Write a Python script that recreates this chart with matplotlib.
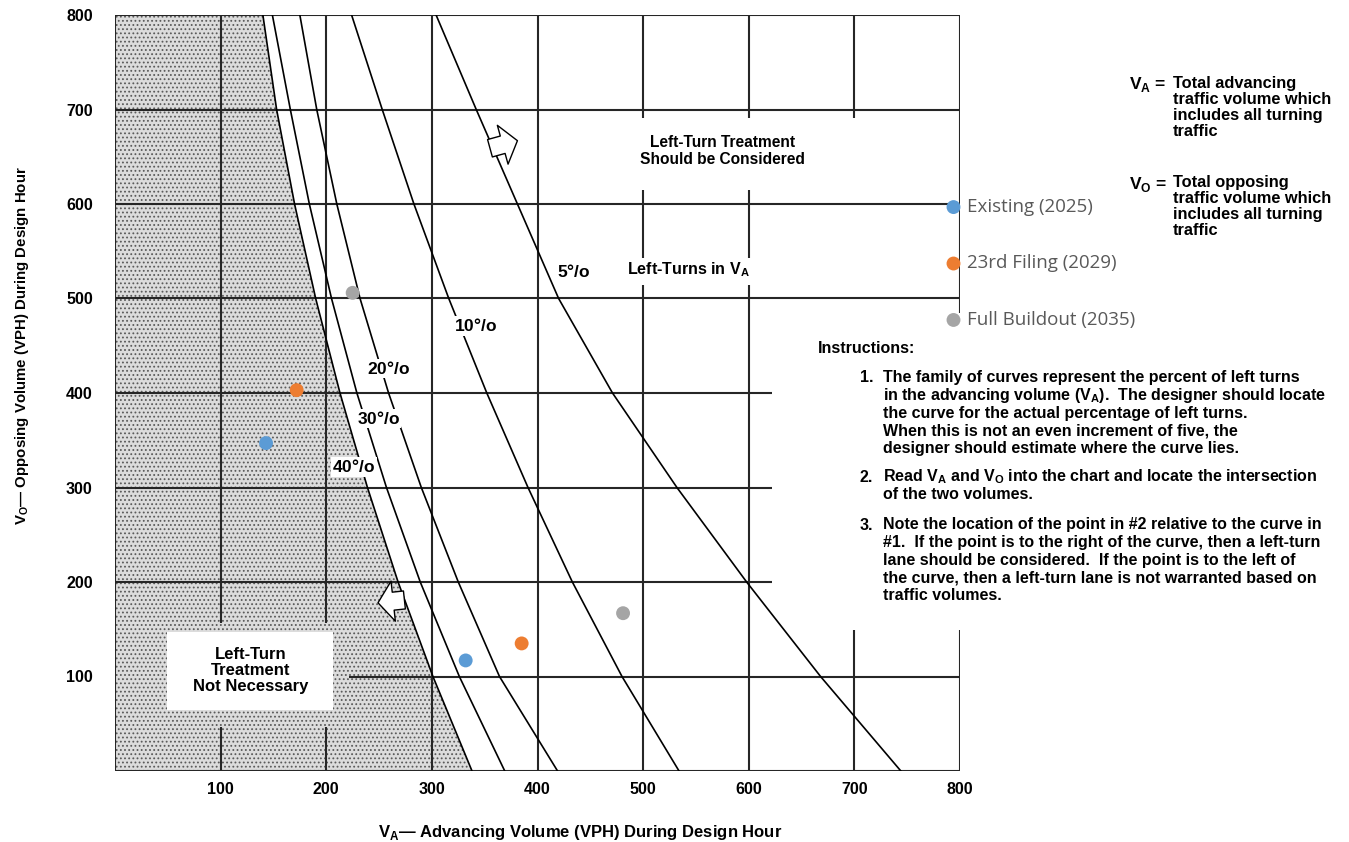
import matplotlib
matplotlib.use("Agg")
import matplotlib.pyplot as plt
from matplotlib import font_manager
from matplotlib.patches import Rectangle, FancyArrowPatch

W, H = 1349, 842

plt.rcParams["font.family"] = ["Liberation Sans", "DejaVu Sans"]
plt.rcParams["font.weight"] = "bold"
plt.rcParams["mathtext.fontset"] = "custom"
plt.rcParams["mathtext.rm"] = "Liberation Sans:bold"
plt.rcParams["mathtext.bf"] = "Liberation Sans:bold"
plt.rcParams["mathtext.sf"] = "Liberation Sans"
plt.rcParams["hatch.color"] = "#5a5a5a"
plt.rcParams["hatch.linewidth"] = 0.8

# ---------------- data ----------------
# Opposing volume (VPH) at which each warrant curve is tabulated
vo_levels = [0, 100, 200, 300, 400, 500, 600, 700, 800]
# Advancing volume (VPH) on each curve, by percentage of left turns in V_A
va_40pct = [338, 301, 268, 239, 213, 190, 170, 153, 140]
va_30pct = [369, 326, 289, 257, 229, 205, 184, 166, 149]
va_20pct = [419, 364, 325, 290, 259, 232, 210, 191, 175]
va_10pct = [534, 480, 433, 391, 352, 316, 283, 253, 224]
va_5pct = [744, 668, 598, 532, 471, 420, 381, 342, 304]
curve_pcts = ["40", "30", "20", "10", "5"]

# Analysis scenarios (two intersections each)
scenario_names = ["Existing (2025)", "23rd Filing (2029)", "Full Buildout (2035)"]
scenario_va = [[143, 332], [172, 385], [225, 481]]
scenario_vo = [[347, 117], [403, 135], [506, 167]]
scenario_colors = ["#5B9BD5", "#ED7D31", "#A5A5A5"]

tick_values = [100, 200, 300, 400, 500, 600, 700, 800]


def has_font(name):
    try:
        font_manager.findfont(font_manager.FontProperties(family=name),
                              fallback_to_default=False)
        return True
    except Exception:
        return False


legend_font = "Open Sans" if has_font("Open Sans") else "DejaVu Sans"

fig = plt.figure(figsize=(W / 100, H / 100), dpi=100)
fig.patch.set_facecolor("white")


def put(px, py, s, **kw):
    return fig.text(px / W, 1 - py / H, s, **kw)


ax = fig.add_axes([115 / W, 1 - 771 / H, (960 - 115) / W, (771 - 15) / H])
ax.set_xlim(0, 800)
ax.set_ylim(0, 800)
for sp in ax.spines.values():
    sp.set_visible(False)
ax.set_xticks(tick_values)
ax.set_yticks(tick_values)
ax.tick_params(length=0, labelsize=11.5, colors="black")
ax.tick_params(axis="x", pad=8)
ax.tick_params(axis="y", pad=16)
for lab in ax.get_xticklabels() + ax.get_yticklabels():
    lab.set_fontweight("bold")

# stippled "not necessary" region left of the 40 % curve
ax.fill_betweenx(vo_levels, 0, va_40pct, facecolor="#dcdcdc",
                 hatch="....", edgecolor="#5a5a5a", linewidth=0, zorder=1)

# chart grid, interrupted where the annotations sit
grid_kw = dict(color="#262626", linewidth=1.5, zorder=2)
v_segments = [(0, 0, 800), (100, 0, 47), (100, 157, 800), (200, 0, 47), (200, 157, 800),
              (300, 0, 800), (400, 0, 800),
              (500, 0, 514), (500, 543, 615), (500, 691, 800),
              (600, 0, 514), (600, 543, 615), (600, 691, 800),
              (700, 0, 149), (700, 691, 800), (800, 0, 149), (800, 485, 800)]
h_segments = [(0, 0, 800), (100, 222, 800), (200, 0, 622), (300, 0, 622), (400, 0, 622),
              (500, 0, 800), (600, 0, 800), (700, 0, 800), (800, 0, 800)]
for x, y0, y1 in v_segments:
    ax.vlines(x, y0, y1, **grid_kw)
for y, x0, x1 in h_segments:
    ax.hlines(y, x0, x1, **grid_kw)

# label box inside the stippled area
ax.add_patch(Rectangle((49, 65), 157, 82, facecolor="white", edgecolor="none", zorder=3))
ax.text(128, 106, "Left-Turn\nTreatment\nNot Necessary", ha="center", va="center",
        fontsize=12, linespacing=1.08, zorder=4)

# warrant curves
curves = [va_40pct, va_30pct, va_20pct, va_10pct, va_5pct]
for va in curves:
    ax.plot(va, vo_levels, color="black", linewidth=1.2, zorder=4)

label_pos = {"40": (226, 322), "30": (249, 373), "20": (259, 426),
             "10": (341, 471), "5": (434, 529)}
for pct in curve_pcts:
    x, y = label_pos[pct]
    ax.text(x, y, pct + r"°/$\mathsf{o}$", ha="center", va="center", fontsize=12.5,
            zorder=5, bbox=dict(facecolor="white", edgecolor="none", pad=1.0))

ax.text(575, 656, "Left-Turn Treatment\nShould be Considered", ha="center", va="center",
        fontsize=11.2, linespacing=1.1, zorder=5)
ax.text(543, 530, r"Left-Turns in V$_\mathbf{A}$", ha="center", va="center",
        fontsize=11.5, zorder=5)

# direction arrows
arrow_style = "simple,head_length=0.55,head_width=1.45,tail_width=0.65"
for tail, tip in [((355, 659), (381, 667)), ((274, 181), (249, 178))]:
    ax.add_patch(FancyArrowPatch(tail, tip, arrowstyle=arrow_style, mutation_scale=20,
                                 facecolor="white", edgecolor="black", linewidth=1,
                                 shrinkA=0, shrinkB=0, zorder=5))

# scenario points
for name, xs, ys, c in zip(scenario_names, scenario_va, scenario_vo, scenario_colors):
    ax.scatter(xs, ys, s=100, color=c, edgecolors="none", zorder=6, label=name)

leg = ax.legend(loc="upper left", bbox_to_anchor=(946 / W, 1 - 198 / H),
                bbox_transform=fig.transFigure, frameon=False, borderpad=0,
                borderaxespad=0, handlelength=0.8, handletextpad=0.3,
                labelspacing=2.05, scatterpoints=1,
                prop=dict(family=legend_font, size=13.5, weight="normal"))
for t in leg.get_texts():
    t.set_color("#595959")
leg.set_zorder(7)

# axis titles
put(580, 833, r"V$_\mathbf{A}$— Advancing Volume (VPH) During Design Hour",
    ha="center", va="center", fontsize=12)
put(22, 346, r"V$_\mathbf{O}$— Opposing Volume (VPH) During Design Hour",
    ha="center", va="center", rotation=90, fontsize=10.8)

# definitions
put(1129, 84, r"V$_\mathbf{A}$ =", ha="left", va="center", fontsize=12.5)
put(1173, 76, "Total advancing\ntraffic volume which\nincludes all turning\ntraffic",
    ha="left", va="top", fontsize=11.8, linespacing=1.09)
put(1129, 184, r"V$_\mathbf{O}$ =", ha="left", va="center", fontsize=12.5)
put(1173, 175, "Total opposing\ntraffic volume which\nincludes all turning\ntraffic",
    ha="left", va="top", fontsize=11.8, linespacing=1.09)

# instructions
step = 17.6
put(818, 349, "Instructions:", ha="left", va="center", fontsize=11.5)
items = [
    ("1.", 378, ["The family of curves represent the percent of left turns",
                 r"in the advancing volume (V$_\mathbf{A}$).  The designer should locate",
                 "the curve for the actual percentage of left turns.",
                 "When this is not an even increment of five, the",
                 "designer should estimate where the curve lies."]),
    ("2.", 477, [r"Read V$_\mathbf{A}$ and V$_\mathbf{O}$ into the chart and locate the intersection",
                 "of the two volumes."]),
    ("3.", 525, ["Note the location of the point in #2 relative to the curve in",
                 "#1.  If the point is to the right of the curve, then a left-turn",
                 "lane should be considered.  If the point is to the left of",
                 "the curve, then a left-turn lane is not warranted based on",
                 "traffic volumes."]),
]
for num, y0, lines in items:
    put(860, y0, num, ha="left", va="center", fontsize=11.5)
    for i, line in enumerate(lines):
        put(883, y0 + i * step, line, ha="left", va="center", fontsize=11.5)

fig.savefig("out.png", dpi=100, facecolor="white")
